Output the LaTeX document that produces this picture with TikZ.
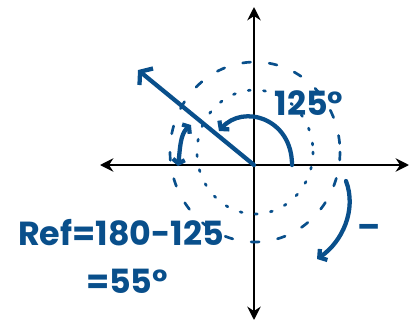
\documentclass[tikz,border=0pt]{standalone}
\usepackage{fontspec}
\setmainfont{Poppins}
\usetikzlibrary{arrows.meta,positioning}
\definecolor{skBlue}{RGB}{9,79,139}

\begin{document}
\begin{tikzpicture}[
    x=0.75pt,y=-0.75pt,
    every node/.style={font=\fontsize{25}{27}\selectfont\bfseries,text=skBlue,inner sep=0pt},
    axis/.style={line width=2.2pt,{Stealth[length=10pt,width=10pt]}-{Stealth[length=10pt,width=10pt]}},
    ink/.style={skBlue,line width=3.2pt,line cap=round,line join=round},
    bigbarb/.style={-{Straight Barb[length=6pt,width=16pt]}},
    barb/.style={-{Straight Barb[length=4pt,width=10pt]}},
    twobarb/.style={{Straight Barb[length=3pt,width=9pt]}-{Straight Barb[length=3pt,width=9pt]}},
    ring/.style={skBlue,line width=2pt,line cap=round,dash pattern=on 6pt off 14pt},
    dotring/.style={skBlue,line width=2pt,line cap=round,dash pattern=on 1.5pt off 10pt}
  ]
  \useasboundingbox (0,0) rectangle (411,322);
  % Axes
  \coordinate (O) at (254,165);
  \coordinate (xL) at (100,165);
  \coordinate (xR) at (409,165);
  \coordinate (yT) at (254,7);
  \coordinate (yB) at (254,320);
  \draw[axis] (xL) -- (xR);
  \draw[axis] (yT) -- (yB);
  % Rotation rings
  \coordinate (ringC) at (255,152);
  \draw[ring] (ringC) ellipse [x radius=85, y radius=90];
  \draw[dotring] (ringC) ellipse [x radius=58, y radius=62];
  % Terminal side
  \coordinate (tip) at (138,70);
  \draw[ink,bigbarb] (O) -- (tip);
  % Angle arcs
  \coordinate (arcS) at (292,165);
  \coordinate (arcE) at (219,131);
  \draw[ink,barb] (arcS) .. controls (292,118) and (243,104) .. (arcE);
  \coordinate (refT) at (191,125);
  \coordinate (refB) at (178,166);
  \draw[ink,twobarb] (refT) .. controls (180,134) and (180,150) .. (refB);
  \coordinate (negS) at (346,181);
  \coordinate (negE) at (317,259);
  \draw[ink,barb] (negS) .. controls (357,210) and (342,242) .. (negE);
  % Labels
  \node (t125) at (309,103) {125°};
  \node (ref) at (121,233) {Ref=180-125};
  \node (res) at (127,281) {=55°};
  \node (neg) at (369,231) {–};
\end{tikzpicture}
\end{document}
